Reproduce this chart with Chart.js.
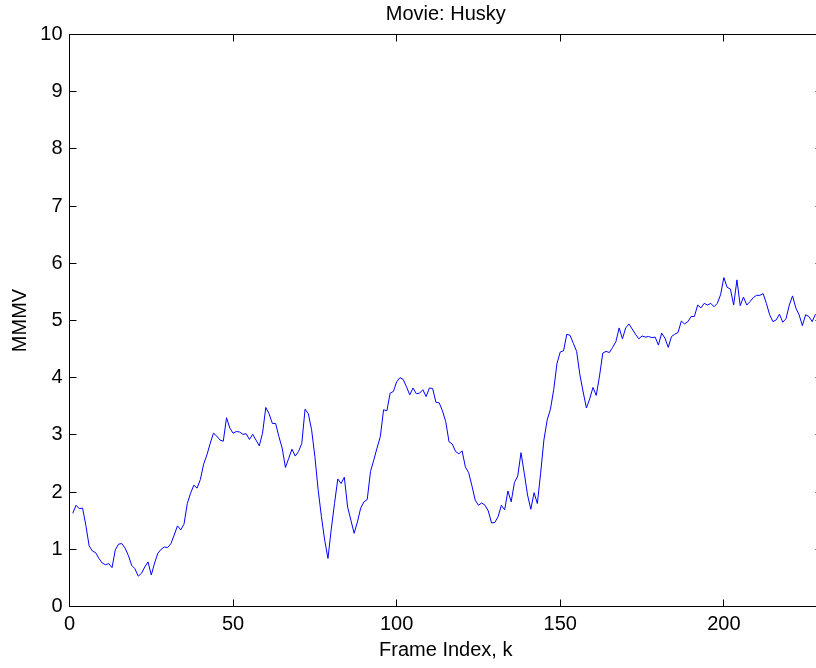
<!DOCTYPE html>
<html>
<head>
<meta charset="utf-8">
<script src="https://cdn.jsdelivr.net/npm/chart.js@4/dist/chart.umd.min.js"></script>
<style>
  html, body { margin: 0; padding: 0; background: #fff; overflow: hidden; width: 816px; height: 668px; }
  canvas { display: block; }
</style>
</head>
<body>
<canvas id="c" width="830" height="668"></canvas>
<script>
const chartTitle = "Movie: Husky";
const xLabel = "Frame Index, k";
const yLabel = "MMMV";
const firstFrame = 1;
const xTickValues = [0, 50, 100, 150, 200];
const yTickValues = [0, 1, 2, 3, 4, 5, 6, 7, 8, 9, 10];
const mmmv = [
  1.63, 1.77, 1.71, 1.72, 1.42, 1.06, 0.97, 0.94, 0.84, 0.76,
  0.73, 0.75, 0.68, 0.99, 1.09, 1.10, 1.02, 0.89, 0.72, 0.66,
  0.53, 0.58, 0.69, 0.78, 0.55, 0.76, 0.93, 1.00, 1.04, 1.03,
  1.10, 1.25, 1.41, 1.34, 1.44, 1.80, 1.98, 2.12, 2.07, 2.22,
  2.49, 2.65, 2.85, 3.03, 2.98, 2.91, 2.89, 3.30, 3.12, 3.03,
  3.06, 3.05, 3.01, 3.02, 2.92, 3.01, 2.91, 2.81, 3.03, 3.48,
  3.37, 3.20, 3.20, 2.97, 2.77, 2.43, 2.59, 2.75, 2.63, 2.71,
  2.85, 3.45, 3.37, 3.09, 2.62, 2.04, 1.57, 1.16, 0.84, 1.35,
  1.80, 2.23, 2.15, 2.26, 1.74, 1.51, 1.28, 1.48, 1.72, 1.83,
  1.87, 2.36, 2.56, 2.77, 2.97, 3.44, 3.42, 3.73, 3.76, 3.93,
  4.00, 3.97, 3.84, 3.70, 3.82, 3.72, 3.73, 3.79, 3.67, 3.82,
  3.81, 3.57, 3.56, 3.42, 3.23, 2.88, 2.84, 2.71, 2.67, 2.72,
  2.44, 2.34, 2.11, 1.86, 1.77, 1.81, 1.77, 1.67, 1.46, 1.47,
  1.57, 1.77, 1.69, 2.02, 1.83, 2.17, 2.28, 2.69, 2.33, 1.95,
  1.70, 1.99, 1.80, 2.33, 2.91, 3.26, 3.45, 3.79, 4.25, 4.45,
  4.47, 4.76, 4.74, 4.60, 4.46, 4.05, 3.75, 3.47, 3.63, 3.83,
  3.69, 4.03, 4.43, 4.46, 4.44, 4.53, 4.63, 4.87, 4.68, 4.87,
  4.94, 4.85, 4.76, 4.68, 4.73, 4.71, 4.72, 4.70, 4.71, 4.57,
  4.78, 4.69, 4.53, 4.72, 4.76, 4.79, 4.99, 4.94, 4.98, 5.07,
  5.07, 5.27, 5.22, 5.30, 5.27, 5.30, 5.24, 5.30, 5.45, 5.75,
  5.58, 5.55, 5.27, 5.71, 5.26, 5.41, 5.27, 5.33, 5.40, 5.44,
  5.44, 5.47, 5.30, 5.10, 4.98, 5.01, 5.11, 4.97, 5.03, 5.27,
  5.43, 5.22, 5.10, 4.91, 5.10, 5.07, 4.98, 5.11
];

const points = mmmv.map((v, i) => ({ x: firstFrame + i, y: v }));
const FONT = "'Liberation Sans', Arial, Helvetica, sans-serif";
const TICK_LEN = 7;
const snap = p => Math.floor(p) + 0.5;

const boxTicks = {
  id: 'boxTicks',
  afterDraw(chart) {
    const { ctx, chartArea: a, scales } = chart;
    const L = snap(a.left), R = snap(a.right);
    const T = snap(a.top), B = snap(a.bottom);
    ctx.save();
    ctx.strokeStyle = '#000';
    ctx.lineWidth = 1;
    ctx.beginPath();
    ctx.rect(L, T, R - L, B - T);
    xTickValues.forEach(v => {
      const px = snap(scales.x.getPixelForValue(v));
      ctx.moveTo(px, B); ctx.lineTo(px, B - TICK_LEN);
      ctx.moveTo(px, T); ctx.lineTo(px, T + TICK_LEN);
    });
    yTickValues.forEach(v => {
      const py = snap(scales.y.getPixelForValue(v));
      ctx.moveTo(L, py); ctx.lineTo(L + TICK_LEN, py);
      ctx.moveTo(R, py); ctx.lineTo(R - TICK_LEN, py);
    });
    ctx.stroke();
    ctx.restore();
  }
};

new Chart(document.getElementById('c'), {
  type: 'line',
  data: {
    datasets: [{
      data: points,
      borderColor: '#0000FF',
      borderWidth: 1,
      pointRadius: 0,
      tension: 0,
      fill: false
    }]
  },
  options: {
    responsive: false,
    animation: false,
    events: [],
    layout: { padding: { left: 0, right: 8, top: 0, bottom: 0 } },
    plugins: {
      legend: { display: false },
      tooltip: { enabled: false },
      title: {
        display: true,
        text: chartTitle,
        fullSize: false,
        color: '#000',
        font: { family: FONT, size: 20, weight: 'normal', lineHeight: 1.2 },
        padding: { top: 2, bottom: 8.5 }
      }
    },
    scales: {
      x: {
        type: 'linear',
        min: 0,
        max: 230,
        grid: { display: false, drawTicks: false },
        border: { display: false },
        afterFit(s) { s.height = 61.5; },
        afterBuildTicks(s) { s.ticks = xTickValues.map(v => ({ value: v })); },
        ticks: {
          color: '#000',
          padding: 6,
          maxRotation: 0,
          autoSkip: false,
          includeBounds: false,
          font: { family: FONT, size: 20, lineHeight: 1.2 }
        },
        title: {
          display: true,
          text: xLabel,
          color: '#000',
          font: { family: FONT, size: 20, lineHeight: 1.2 },
          padding: { top: 0, bottom: 6 }
        }
      },
      y: {
        type: 'linear',
        min: 0,
        max: 10,
        grid: { display: false, drawTicks: false },
        border: { display: false },
        afterFit(s) { s.width = 69.5; },
        afterBuildTicks(s) { s.ticks = yTickValues.map(v => ({ value: v })); },
        ticks: {
          color: '#000',
          padding: 7,
          autoSkip: false,
          includeBounds: false,
          font: { family: FONT, size: 20, lineHeight: 1.2 }
        },
        title: {
          display: true,
          text: yLabel,
          color: '#000',
          font: { family: FONT, size: 20, lineHeight: 1.2 },
          padding: { top: 8, bottom: 0 }
        }
      }
    }
  },
  plugins: [boxTicks]
});
</script>
</body>
</html>
